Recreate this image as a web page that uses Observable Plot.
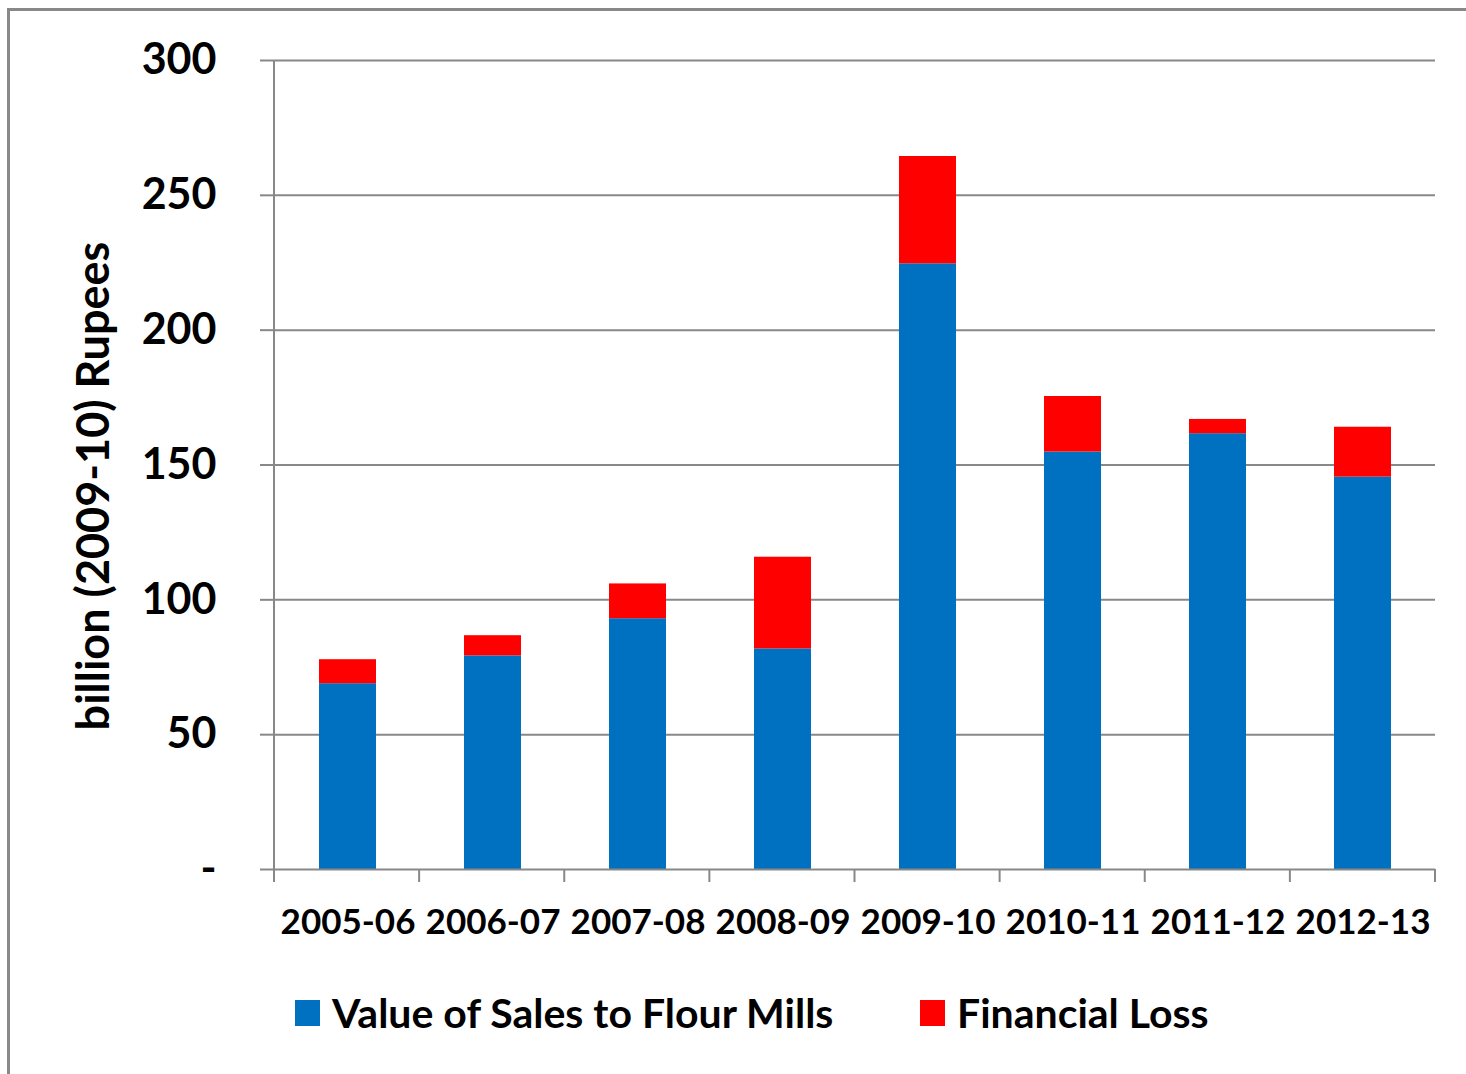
<!DOCTYPE html>
<html>
<head>
<meta charset="utf-8">
<script src="https://cdn.jsdelivr.net/npm/d3@7"></script>
<script src="https://cdn.jsdelivr.net/npm/@observablehq/plot@0.6"></script>
<style>
  html, body { margin: 0; padding: 0; background: #fff; overflow: hidden; width: 1466px; height: 1074px; }
  #wrap { position: relative; width: 1466px; height: 1074px; font-family: Lato, "Open Sans", sans-serif; font-weight: 700; color: #000; }
  #border { position: absolute; left: 7px; top: 8px; width: 2000px; height: 2000px; border: 3px solid #888; box-sizing: border-box; }
  #chart { position: absolute; left: 0; top: 0; }
  #ytitle { position: absolute; left: 92px; top: 486px; transform: translate(-50%, -50%) rotate(-90deg); white-space: nowrap; font-size: 45px; font-weight: 700; }
  .leg { position: absolute; top: 991px; display: flex; align-items: center; font-size: 41px; font-weight: 700; white-space: nowrap; line-height: 44px; }
  .sw { width: 25px; height: 26px; margin-right: 12px; }
  #chart svg text { fill: #000; font-weight: 700; font-family: Lato, "Open Sans", sans-serif; }
  #chart svg [aria-label^="y-axis"] text { font-size: 43px; }
  #chart svg [aria-label^="x-axis"] text { font-size: 35px; }
  #chart svg [aria-label^="y-axis"] line, #chart svg [aria-label^="y-axis"] path { stroke: #888; stroke-width: 2; stroke-opacity: 1; }
</style>
</head>
<body>
<div id="wrap">
  <div id="border"></div>
  <div id="chart"></div>
  <div id="ytitle">billion (2009-10) Rupees</div>
  <div class="leg" style="left:295px"><div class="sw" style="background:#0070C0"></div>Value of Sales to Flour Mills</div>
  <div class="leg" style="left:920px"><div class="sw" style="background:#FF0000"></div>Financial Loss</div>
</div>
<script>
const years = ["2005-06","2006-07","2007-08","2008-09","2009-10","2010-11","2011-12","2012-13"];
const salesValue = [68.9, 79.2, 93.0, 81.8, 224.6, 154.8, 161.6, 145.5];
const financialLoss = [8.9, 7.5, 12.9, 34.0, 39.8, 20.6, 5.3, 18.5];
const seriesNames = ["Value of Sales to Flour Mills", "Financial Loss"];
const seriesColors = ["#0070C0", "#FF0000"];
const yTicks = [0, 50, 100, 150, 200, 250, 300];

const data = [];
years.forEach((yr, i) => {
  data.push({year: yr, series: seriesNames[0], value: salesValue[i]});
  data.push({year: yr, series: seriesNames[1], value: financialLoss[i]});
});

const chart = Plot.plot({
  width: 1466,
  height: 969,
  marginLeft: 274,
  marginRight: 31,
  marginTop: 60,
  marginBottom: 100,
  style: {background: "transparent", fontFamily: "Lato, 'Open Sans', sans-serif", fontWeight: 700},
  x: {type: "band", domain: years, paddingInner: 0.61, paddingOuter: 0.305, label: null, tickSize: 0, tickPadding: 40},
  y: {domain: [0, 300], ticks: yTicks, tickFormat: d => d === 0 ? "-" : d3.format("d")(d), label: null, tickSize: 14, tickPadding: 44},
  color: {domain: seriesNames, range: seriesColors},
  marks: [
    Plot.ruleY(yTicks.filter(d => d > 0), {stroke: "#888", strokeWidth: 2, strokeOpacity: 1}),
    Plot.barY(data, {x: "year", y: "value", fill: "series", order: seriesNames}),
    Plot.ruleY([0], {stroke: "#888", strokeWidth: 2, strokeOpacity: 1})
  ]
});
document.getElementById("chart").appendChild(chart);

// axis line on the left and category boundary ticks, positioned with Plot's own scales
const xs = chart.scale("x");
const ysc = chart.scale("y");
const svg = d3.select(chart.tagName === "svg" ? chart : chart.querySelector("svg"));
const x0 = xs.range[0], x1 = xs.range[1];
const yTop = ysc.apply(300), yBase = ysc.apply(0);
const g = svg.append("g").attr("stroke", "#888").attr("stroke-width", 2);
g.append("line").attr("x1", x0).attr("x2", x0).attr("y1", yTop).attr("y2", yBase + 13);
for (let i = 0; i <= years.length; i++) {
  const bx = x0 + (x1 - x0) * i / years.length;
  g.append("line").attr("x1", bx).attr("x2", bx).attr("y1", yBase).attr("y2", yBase + 13);
}
</script>
</body>
</html>
